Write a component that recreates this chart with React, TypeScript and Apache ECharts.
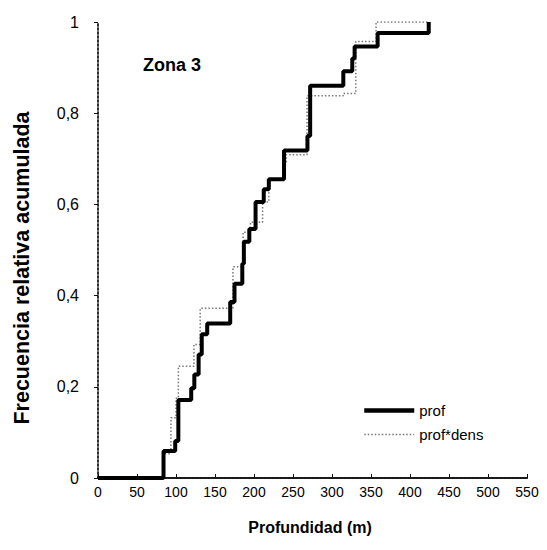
import React, { useEffect, useRef } from "react";
import * as echarts from "echarts";

// Cumulative relative frequency, "prof" series (step points: depth m, cumulative value)
const profX = [0, 84, 99, 103, 119.5, 123.5, 129, 133, 140, 169.5, 175, 185, 187, 194, 202, 212.5, 219, 238.5, 268.5, 272, 314.5, 326, 329, 358.5, 424];
const profY = [0, 0.059, 0.081, 0.171, 0.197, 0.227, 0.271, 0.315, 0.339, 0.386, 0.426, 0.47, 0.518, 0.546, 0.605, 0.633, 0.655, 0.718, 0.75, 0.86, 0.892, 0.92, 0.946, 0.976, 1];

// "prof*dens" series
const densX = [0, 84, 93.5, 100, 103, 123, 131, 173, 186, 195.5, 211, 219, 238.5, 241.5, 268, 314.5, 330.5, 356.5, 424];
const densY = [0, 0.053, 0.132, 0.175, 0.245, 0.293, 0.372, 0.463, 0.539, 0.561, 0.605, 0.655, 0.692, 0.709, 0.838, 0.843, 0.957, 1, 1];

const seriesNames = ["prof", "prof*dens"];
const xTicks = { min: 0, max: 550, interval: 50 };
const yTicks = { min: 0, max: 1, interval: 0.2 };
const panelLabel = "Zona 3";
const xTitle = "Profundidad (m)";
const yTitle = "Frecuencia relativa acumulada";

const FONT = "'Liberation Sans', Arial, sans-serif";

export default function App() {
  const ref = useRef<HTMLDivElement>(null);
  useEffect(() => {
    if (!ref.current) return;
    const chart = echarts.init(ref.current, null, { renderer: "svg" });
    const profData = profX.map((x, i) => [x, profY[i]]);
    const densData = densX.map((x, i) => [x, densY[i]]);
    const borderLine = { show: true, lineStyle: { color: "#222", width: 1.5, type: [2, 2] as any } };
    chart.setOption({
      animation: false,
      backgroundColor: "#fff",
      grid: { left: 98, top: 22, width: 429, height: 456, containLabel: false },
      legend: {
        orient: "vertical",
        left: 357,
        top: 398,
        itemWidth: 50,
        itemHeight: 14,
        itemGap: 9,
        data: [
          { name: seriesNames[0], lineStyle: { width: 4.5, color: "#000" } },
          { name: seriesNames[1], lineStyle: { width: 1.5, color: "#777", type: [1.5, 2] } },
        ],
        itemStyle: { opacity: 0 },
        textStyle: { fontFamily: FONT, fontSize: 15, color: "#000" },
      },
      xAxis: [
        {
          type: "value",
          min: xTicks.min,
          max: xTicks.max,
          interval: xTicks.interval,
          position: "bottom",
          axisLine: { show: true, lineStyle: { color: "#111", width: 2 } },
          axisTick: { show: true, inside: true, length: 4, lineStyle: { color: "#111" } },
          axisLabel: { fontFamily: FONT, fontSize: 14, color: "#000", margin: 7 },
          splitLine: { show: false },
        },
        {
          type: "value",
          min: xTicks.min,
          max: xTicks.max,
          position: "top",
          axisLine: borderLine,
          axisTick: { show: false },
          axisLabel: { show: false },
          splitLine: { show: false },
        },
      ],
      yAxis: [
        {
          type: "value",
          min: yTicks.min,
          max: yTicks.max,
          interval: yTicks.interval,
          position: "left",
          axisLine: borderLine,
          axisTick: { show: true, length: 4, lineStyle: { color: "#111" } },
          axisLabel: {
            fontFamily: FONT,
            fontSize: 16,
            color: "#000",
            margin: 19,
            formatter: (v: number) => String(Math.round(v * 10) / 10).replace(".", ","),
          },
          splitLine: { show: false },
        },
        {
          type: "value",
          min: yTicks.min,
          max: yTicks.max,
          position: "right",
          axisLine: borderLine,
          axisTick: { show: false },
          axisLabel: { show: false },
          splitLine: { show: false },
        },
      ],
      graphic: [
        {
          type: "text",
          left: 143,
          top: 56,
          style: { text: panelLabel, font: `bold 18px ${FONT}`, fill: "#000" },
        },
        {
          type: "text",
          x: 310,
          y: 527,
          style: {
            text: xTitle,
            font: `bold 16px ${FONT}`,
            fill: "#000",
            textAlign: "center",
            textVerticalAlign: "middle",
          },
        },
        {
          type: "text",
          x: 22,
          y: 268,
          rotation: Math.PI / 2,
          style: {
            text: yTitle,
            font: `bold 21.5px ${FONT}`,
            fill: "#000",
            textAlign: "center",
            textVerticalAlign: "middle",
          },
        },
      ],
      series: [
        {
          name: seriesNames[1],
          type: "line",
          step: "end",
          data: densData,
          showSymbol: false,
          symbol: "none",
          lineStyle: { color: "#777", width: 1.5, type: [1.5, 2] },
          itemStyle: { color: "#777" },
          z: 2,
        },
        {
          name: seriesNames[0],
          type: "line",
          step: "end",
          data: profData,
          showSymbol: false,
          symbol: "none",
          lineStyle: { color: "#000", width: 4 },
          itemStyle: { color: "#000" },
          z: 3,
        },
      ],
    });
    return () => chart.dispose();
  }, []);
  return (
    <div
      ref={ref}
      style={{ position: "fixed", left: 0, top: 0, width: 547, height: 550, background: "#fff" }}
    />
  );
}
